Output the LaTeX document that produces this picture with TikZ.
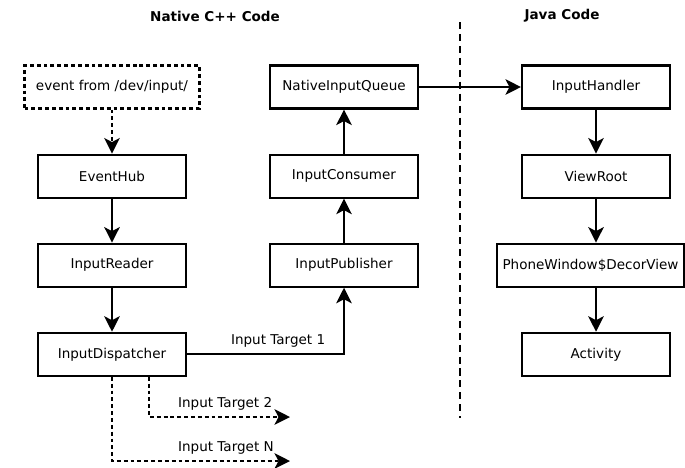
\documentclass[tikz,border=0pt]{standalone}
\usepackage{fontspec}
\setmainfont{DejaVu Sans}
\usetikzlibrary{positioning, arrows.meta}

\begin{document}
\begin{tikzpicture}[x=0.02cm, y=-0.02cm, node distance=0.88cm,
    font=\fontsize{7.7}{9.2}\selectfont,
    block/.style={draw, line width=1.2pt, minimum width=2.96cm, minimum height=0.86cm, inner sep=0pt, text centered},
    link/.style={line width=1.2pt, -{Stealth[length=3.1mm, width=3.1mm, inset=0.8mm]}},
    dotlink/.style={link, dash pattern=on 2.2pt off 1.7pt},
    heading/.style={font=\fontsize{7.7}{9.2}\selectfont\bfseries}]

    \useasboundingbox (0,0) rectangle (685,467);

    % Column headings
    \node (native) [heading] at (215,16) {Native C++ Code};
    \node (java) [heading] at (562,16) {Java Code};

    % Separator between native and java side
    \coordinate (sepTop) at (460,22);
    \coordinate (sepBot) at (460,418);
    \draw[line width=1.2pt, dash pattern=on 4pt off 2.8pt] (sepTop) -- (sepBot);

    % Native side, reading events
    \node (Event) [block, dash pattern=on 2.2pt off 1.7pt, minimum width=3.5cm] at (112,87) {event from /dev/input/};
    \node (EventHub) [block, below=of Event] {EventHub};
    \node (InputReader) [block, below=of EventHub] {InputReader};
    \node (InputDispatcher) [block, below=of InputReader] {InputDispatcher};

    % Native side, delivering events
    \node (NativeInputQueue) [block] at (344,87) {NativeInputQueue};
    \node (InputConsumer) [block, below=of NativeInputQueue] {InputConsumer};
    \node (InputPublisher) [block, below=of InputConsumer] {InputPublisher};

    % Java side
    \node (InputHandler) [block] at (596,87) {InputHandler};
    \node (ViewRoot) [block, below=of InputHandler] {ViewRoot};
    \node (DecorView) [block, minimum width=3.74cm, below=of ViewRoot, xshift=-0.11cm] {PhoneWindow\$DecorView};
    \node (Activity) [block, below=of DecorView, xshift=0.11cm] {Activity};

    % Free ends of the other targets
    \coordinate (target2) at (290,417);
    \coordinate (targetN) at (290,461);

    % Draw arrows along the event path
    \draw[dotlink] (Event) -- (EventHub);
    \draw[link] (EventHub) -- (InputReader);
    \draw[link] (InputReader) -- (InputDispatcher);
    \draw[link] (InputDispatcher) -| node[pos=0.29, above] {Input Target 1} (InputPublisher);
    \draw[link] (InputPublisher) -- (InputConsumer);
    \draw[link] (InputConsumer) -- (NativeInputQueue);
    \draw[link] (NativeInputQueue) -- (InputHandler);
    \draw[link] (InputHandler) -- (ViewRoot);
    \draw[link] (ViewRoot) -- (ViewRoot |- DecorView.north);
    \draw[link] (Activity |- DecorView.south) -- (Activity);

    % Other input targets
    \draw[dotlink] ([xshift=0.74cm]InputDispatcher.south) |- node[pos=0.77, above] {Input Target 2} (target2);
    \draw[dotlink] (InputDispatcher.south) |- node[pos=0.82, above] {Input Target N} (targetN);

\end{tikzpicture}
\end{document}
